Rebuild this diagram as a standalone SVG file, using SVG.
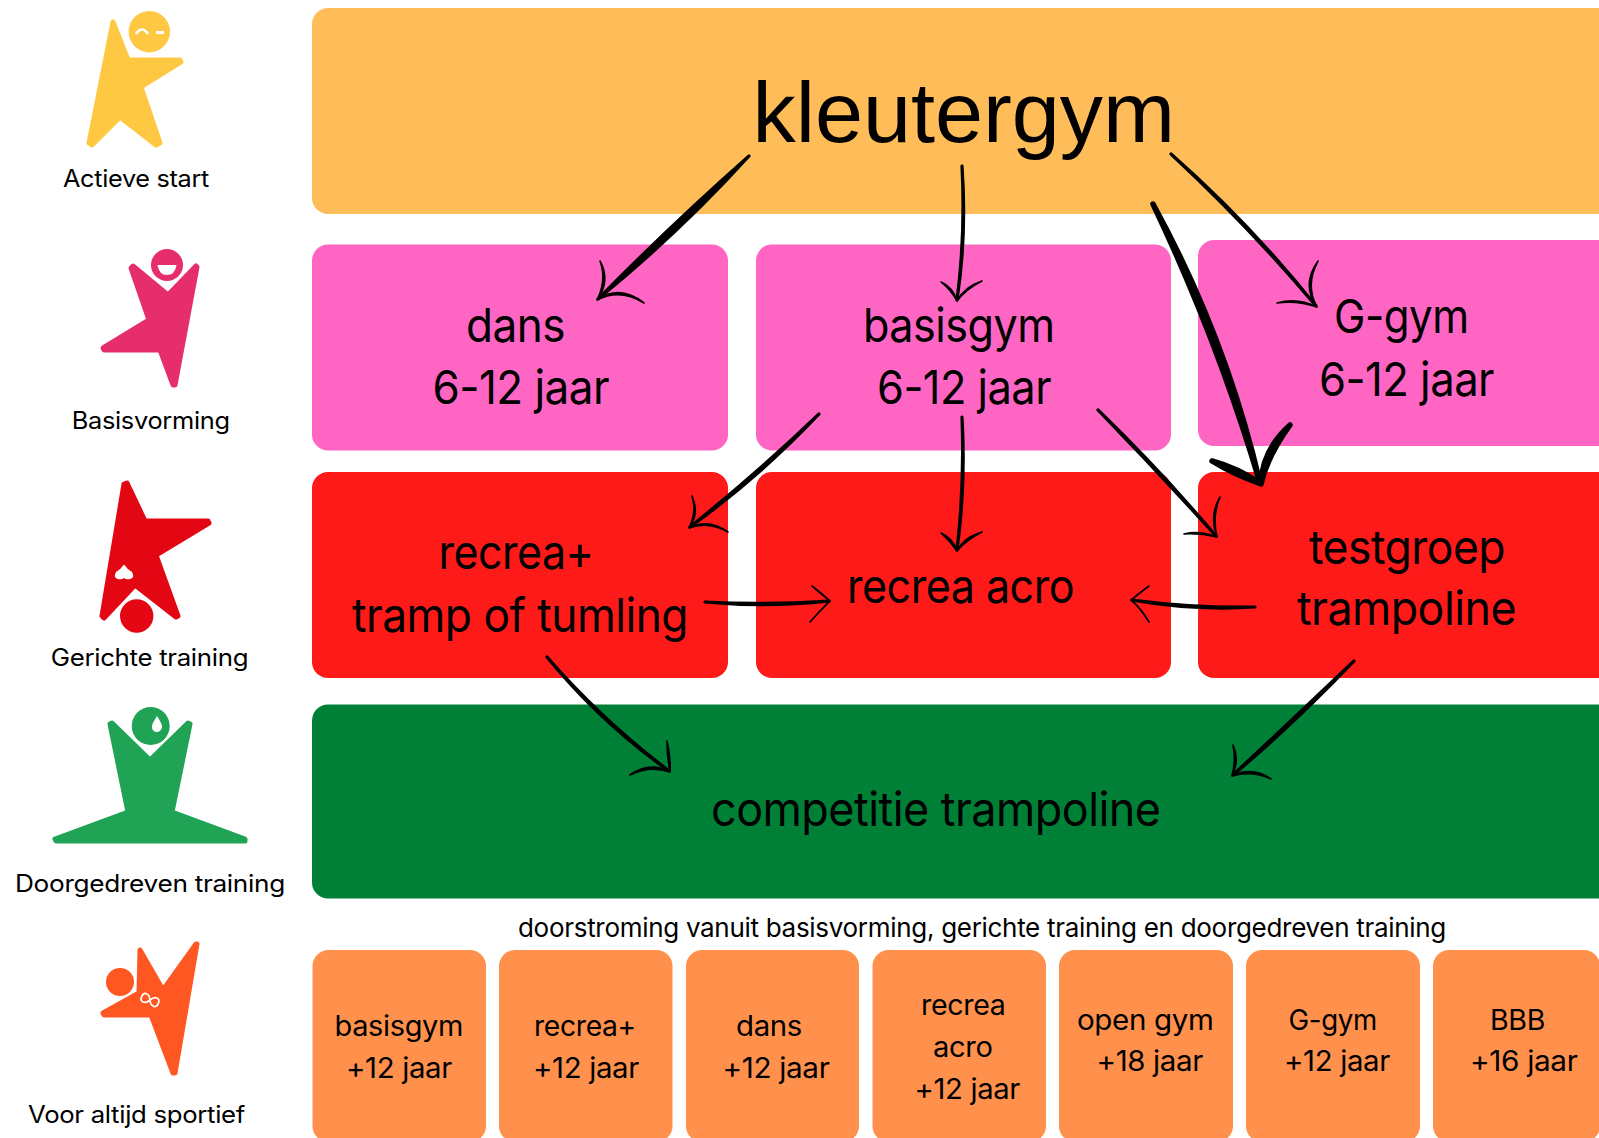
<svg xmlns="http://www.w3.org/2000/svg" width="1599" height="1138" viewBox="0 0 1599 1138">
<style>
text{font-family:Inter,"Liberation Sans",sans-serif;fill:#000;letter-spacing:-.012em}
.big{font-size:47px}.sm{font-size:28px}.lab{font-size:24px}.note{font-size:26px}
text.top{font-family:"Liberation Sans",Arial,sans-serif;font-size:86px;letter-spacing:0}
.amber{fill:#FFBD59}.pink{fill:#FF66C4}.red{fill:#FF1A1A}.green{fill:#008037}.or{fill:#FF914D}
.ink{fill:#000;stroke:#000;stroke-width:3.2;stroke-linejoin:round;stroke-linecap:round}
.barb{fill:#000;stroke:#000;stroke-width:1.6;stroke-linejoin:round}
.fat{fill:#000;stroke:#000;stroke-width:5.5;stroke-linejoin:round}
.ic{stroke-width:5;stroke-linejoin:round}
</style>
<rect width="1599" height="1138" fill="#fff"/>
<g id="icon-actieve-start"><path class="ic" fill="#FFC843" stroke="#FFC843" d="M113,22L128,60L180,60L181,62L141,87L160,143L156,145L120,117L92,145L89,143Z"/><circle cx="149.300" cy="31.700" r="20.700" fill="#FFC843"/><path d="M136,34Q142,25 148,34" fill="none" stroke="#fff" stroke-width="2.500"/><rect x="156" y="31" width="8" height="3" fill="#fff"/><text class="lab" x="63" y="187" textLength="146" lengthAdjust="spacingAndGlyphs">Actieve start</text></g>
<g id="icon-basisvorming"><path class="ic" fill="#E72E6C" stroke="#E72E6C" d="M133,266L168,295L196,266L197,267L175,385L173,385L160,350L104,350L103,348L149,320L131,268Z"/><circle cx="167" cy="265" r="16" fill="#E72E6C"/><path d="M157.500,265H176.500Q175,275 167,275Q159,275 157.500,265Z" fill="#fff"/><text class="lab" x="71.700" y="429" textLength="158" lengthAdjust="spacingAndGlyphs">Basisvorming</text></g>
<g id="icon-gerichte-training"><path class="ic" fill="#E30613" stroke="#E30613" d="M127,483L145,521L208,521L209,523L156,555L178,616L176,617L135,585L104,618L102,616L124,484Z"/><circle cx="136.700" cy="616" r="16.700" fill="#E30613"/><path d="M124,564.500Q127,569 132,572Q135,578 130,579Q126,580 124,578Q122,580 118,579Q113,578 116,572Q121,569 124,564.500Z" fill="#fff"/><text class="lab" x="50.700" y="666" textLength="197.500" lengthAdjust="spacingAndGlyphs">Gerichte training</text></g>
<g id="icon-doorgedreven-training"><path class="ic" fill="#20A354" stroke="#20A354" d="M112,723L150,760L188,723L190,724L172,812L245,839L245,841L56,841L55,839L128,812L110,724Z"/><circle cx="150.700" cy="726" r="19" fill="#20A354"/><path d="M157,716Q163,725 162,728Q160,732 157,732Q153,732 152,728Q151,725 157,716Z" fill="#fff"/><text class="lab" x="15" y="892" textLength="270" lengthAdjust="spacingAndGlyphs">Doorgedreven training</text></g>
<g id="icon-voor-altijd-sportief"><path class="ic" fill="#FF5722" stroke="#FF5722" d="M140,950L163,990L196,944L197,944L175,1073L173,1073L151,1015L104,1015L103,1013L139,993Z"/><circle cx="120" cy="982" r="14" fill="#FF5722"/><path transform="translate(150 1000) rotate(22)" d="M0,0C-3,-6 -9,-6 -9,0C-9,6 -3,6 0,0C3,-6 9,-6 9,0C9,6 3,6 0,0Z" fill="none" stroke="#fff" stroke-width="1.700"/><text class="lab" x="28" y="1123" textLength="217" lengthAdjust="spacingAndGlyphs">Voor altijd sportief</text></g>

<g id="node-kleutergym"><rect class="amber" x="312" y="8" width="1310" height="206" rx="16"/><text class="top" x="752.500" y="141.700" textLength="422.500" lengthAdjust="spacingAndGlyphs">kleutergym</text></g>
<g id="node-dans"><rect class="pink" x="312" y="244.500" width="416" height="206" rx="16"/><text class="big" x="466" y="342" textLength="99" lengthAdjust="spacingAndGlyphs">dans</text><text class="big" x="432.500" y="404" textLength="176.500" lengthAdjust="spacingAndGlyphs">6-12 jaar</text></g>
<g id="node-basisgym"><rect class="pink" x="756" y="244.500" width="415" height="206" rx="16"/><text class="big" x="863" y="342" textLength="191.500" lengthAdjust="spacingAndGlyphs">basisgym</text><text class="big" x="877" y="404" textLength="174" lengthAdjust="spacingAndGlyphs">6-12 jaar</text></g>
<g id="node-g-gym"><rect class="pink" x="1198" y="240" width="420" height="206" rx="16"/><text class="big" x="1334" y="333" textLength="134.500" lengthAdjust="spacingAndGlyphs">G-gym</text><text class="big" x="1319" y="396" textLength="175" lengthAdjust="spacingAndGlyphs">6-12 jaar</text></g>
<g id="node-recrea-plus"><rect class="red" x="312" y="472" width="416" height="206" rx="16"/><text class="big" x="438.500" y="569" textLength="155" lengthAdjust="spacingAndGlyphs">recrea+</text><text class="big" x="352" y="632" textLength="336" lengthAdjust="spacingAndGlyphs">tramp of tumling</text></g>
<g id="node-recrea-acro"><rect class="red" x="756" y="472" width="415" height="206" rx="16"/><text class="big" x="847" y="603" textLength="227" lengthAdjust="spacingAndGlyphs">recrea acro</text></g>
<g id="node-testgroep"><rect class="red" x="1198" y="472" width="420" height="206" rx="16"/><text class="big" x="1309" y="564" textLength="196" lengthAdjust="spacingAndGlyphs">testgroep</text><text class="big" x="1297" y="625" textLength="219" lengthAdjust="spacingAndGlyphs">trampoline</text></g>
<g id="node-competitie"><rect class="green" x="312" y="704.500" width="1310" height="194" rx="16"/><text class="big" x="711" y="826" textLength="449.500" lengthAdjust="spacingAndGlyphs">competitie trampoline</text></g>
<text class="note" x="518" y="937" textLength="928" lengthAdjust="spacingAndGlyphs">doorstroming vanuit basisvorming, gerichte training en doorgedreven training</text>
<g id="node-basisgym-12"><rect class="or" x="312.500" y="950" width="173.500" height="192" rx="16"/><text class="sm" x="334.500" y="1036" textLength="128.500" lengthAdjust="spacingAndGlyphs">basisgym</text><text class="sm" x="346" y="1078" textLength="106" lengthAdjust="spacingAndGlyphs">+12 jaar</text></g>
<g id="node-recrea-12"><rect class="or" x="499" y="950" width="173.500" height="192" rx="16"/><text class="sm" x="534" y="1036" textLength="102" lengthAdjust="spacingAndGlyphs">recrea+</text><text class="sm" x="533" y="1078" textLength="106" lengthAdjust="spacingAndGlyphs">+12 jaar</text></g>
<g id="node-dans-12"><rect class="or" x="686" y="950" width="173" height="192" rx="16"/><text class="sm" x="736" y="1036" textLength="66" lengthAdjust="spacingAndGlyphs">dans</text><text class="sm" x="722.500" y="1078" textLength="107" lengthAdjust="spacingAndGlyphs">+12 jaar</text></g>
<g id="node-acro-12"><rect class="or" x="872.500" y="950" width="173.500" height="192" rx="16"/><text class="sm" x="921" y="1015" textLength="84.500" lengthAdjust="spacingAndGlyphs">recrea</text><text class="sm" x="933" y="1057" textLength="59.500" lengthAdjust="spacingAndGlyphs">acro</text><text class="sm" x="914.500" y="1099" textLength="105.500" lengthAdjust="spacingAndGlyphs">+12 jaar</text></g>
<g id="node-open-gym"><rect class="or" x="1059" y="950" width="174" height="192" rx="16"/><text class="sm" x="1077" y="1030" textLength="136.500" lengthAdjust="spacingAndGlyphs">open gym</text><text class="sm" x="1096.500" y="1071" textLength="106.500" lengthAdjust="spacingAndGlyphs">+18 jaar</text></g>
<g id="node-g-gym-12"><rect class="or" x="1246" y="950" width="174" height="192" rx="16"/><text class="sm" x="1288.500" y="1030" textLength="88.500" lengthAdjust="spacingAndGlyphs">G-gym</text><text class="sm" x="1284" y="1071" textLength="106" lengthAdjust="spacingAndGlyphs">+12 jaar</text></g>
<g id="node-bbb"><rect class="or" x="1433" y="950" width="167" height="192" rx="16"/><text class="sm" x="1490" y="1030" textLength="55" lengthAdjust="spacingAndGlyphs">BBB</text><text class="sm" x="1470" y="1071" textLength="107.500" lengthAdjust="spacingAndGlyphs">+16 jaar</text></g>

<g id="connectors">
<path class="ink" d="M749,156Q679,233 598,299Q671,225 749,156Z"/><path class="barb" d="M597,300Q607,280 600,261Q611,281 597,300ZM597,300Q620,288 644,303Q620,284 597,300Z"/>
<path class="ink" d="M962,166Q967,235 957,300Q965.500,235 962,166Z"/><path class="barb" d="M957,301Q951,290 941,282Q953,287 957,301ZM957,301Q966,289 982,281Q964,287 957,301Z"/>
<path class="ink" d="M1171,154Q1250,223.500 1316,306Q1248,225.500 1171,154Z"/><path class="barb" d="M1317,307Q1301,285 1318,261Q1305,285 1317,307ZM1317,307Q1297,297 1277,303Q1297,300 1317,307Z"/>
<path class="fat" d="M1153,204Q1226,337 1260,483Q1218,341 1153,204Z"/><path class="fat" d="M1261,484Q1262,450 1290,425Q1267,457 1261,484ZM1261,484Q1238,468 1212,461Q1233,474 1261,484Z"/>
<path class="ink" d="M819,414Q760,476.500 690,527Q757,473.500 819,414Z"/><path class="barb" d="M689,528Q697,512 692,496Q700,513 689,528ZM689,528Q708,521 728,532Q708,518 689,528Z"/>
<path class="ink" d="M962,417Q966,485 957,550Q964.500,485 962,417Z"/><path class="barb" d="M957,551Q950,541 941,533Q953,538 957,551ZM957,551Q966,540 982,532Q964,537 957,551Z"/>
<path class="ink" d="M1098,410Q1160,470 1216,536Q1158,472 1098,410Z"/><path class="barb" d="M1217,537Q1209,515 1220,497Q1212,516 1217,537ZM1217,537Q1200,530 1184,534Q1200,533 1217,537Z"/>
<path class="ink" d="M705,602Q767,608 829,601Q767,605 705,602Z"/><path class="barb" d="M830,601Q822,595 812,586Q820,592 830,601ZM830,601Q820,611 810,622Q822,608 830,601Z"/>
<path class="ink" d="M1255,607Q1193,611 1132,600Q1193,608 1255,607Z"/><path class="barb" d="M1131,600Q1139,594 1149,586Q1142,591 1131,600ZM1131,600Q1139,606 1149,622Q1142,609 1131,600Z"/>
<path class="ink" d="M547,657Q602,720 669,771Q600,722 547,657Z"/><path class="barb" d="M670,772Q671,757 667,741Q667,757 670,772ZM670,772Q650,761 630,775Q650,765 670,772Z"/>
<path class="ink" d="M1354,661Q1296,722 1233,775Q1293,719 1354,661Z"/><path class="barb" d="M1232,776Q1240,760 1233,745Q1236,760 1232,776ZM1232,776Q1252,766 1271,779Q1252,770 1232,776Z"/>
</g>
</svg>
